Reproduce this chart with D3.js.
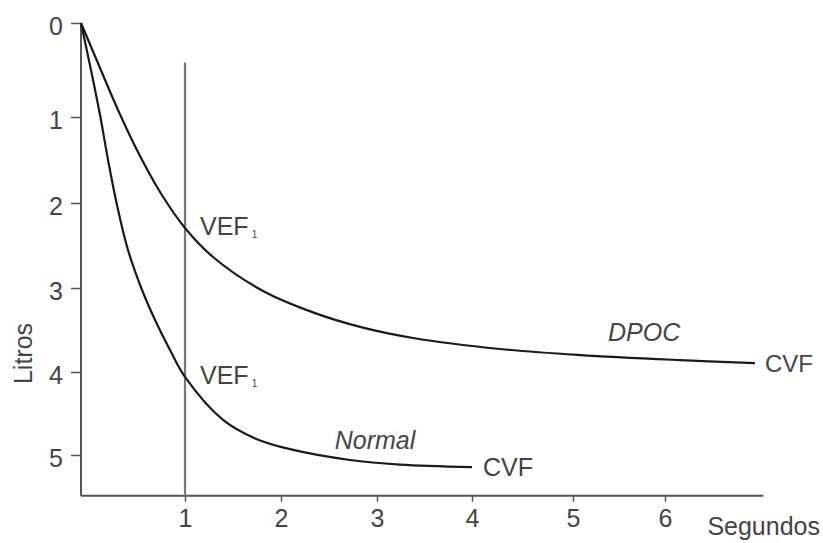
<!DOCTYPE html>
<html>
<head>
<meta charset="utf-8">
<script src="https://cdn.jsdelivr.net/npm/d3@7"></script>
<style>
  html, body { margin: 0; padding: 0; background: #fff; }
  svg text { font-family: "Liberation Sans", Arial, sans-serif; fill: #444; }
</style>
</head>
<body>
<svg id="chart" width="823" height="543"></svg>
<script>
// ---- data ----
const xTicks = [1, 2, 3, 4, 5, 6];
const yTicks = [0, 1, 2, 3, 4, 5];

// time (s), litres expired
const dpocT = [0, 0.183, 0.356, 0.538, 0.760, 1.0, 1.292, 1.813, 2.333, 2.854, 3.379, 4.277, 5.076, 6.163, 6.978];
const dpocV = [0, 0.479, 0.926, 1.384, 1.872, 2.294, 2.635, 3.036, 3.29, 3.472, 3.595, 3.726, 3.798, 3.858, 3.894];

const normalT = [0, 0.096, 0.183, 0.26, 0.346, 0.452, 0.587, 0.712, 0.856, 1.0, 1.396, 1.73, 2.094, 2.719, 3.242, 4.0];
const normalV = [0, 0.5, 0.979, 1.5, 2.024, 2.553, 3.024, 3.381, 3.738, 4.06, 4.578, 4.80, 4.93, 5.06, 5.115, 5.145];

const fev1Time = 1;
const xLabel = "Segundos";
const yLabel = "Litros";

// ---- scales (hand-drawn axis: slightly uneven spacing) ----
const x = d3.scaleLinear()
  .domain([0, 1, 2, 3, 4, 5, 6])
  .range([81, 185, 281, 377, 472, 573, 665]);
const y = d3.scaleLinear()
  .domain([0, 1, 2, 3, 4, 5])
  .range([23, 117, 203, 288, 372, 455]);

const xMax = 7.07, yMax = 5.49;

const svg = d3.select("#chart");
const axisColor = "#555";

// axes lines
svg.append("line")
  .attr("x1", x(0)).attr("x2", x(0))
  .attr("y1", y(0)).attr("y2", y(yMax))
  .attr("stroke", axisColor).attr("stroke-width", 2);
svg.append("line")
  .attr("x1", x(0)).attr("x2", x(xMax))
  .attr("y1", y(yMax)).attr("y2", y(yMax))
  .attr("stroke", axisColor).attr("stroke-width", 2);

// y axis ticks & labels
const yAxis = d3.axisLeft(y).tickValues(yTicks).tickSize(10).tickPadding(8).tickFormat(d3.format("d"));
const gy = svg.append("g").attr("transform", `translate(${x(0)},0)`).call(yAxis);
gy.select(".domain").remove();
gy.selectAll(".tick line").attr("stroke", axisColor).attr("stroke-width", 1.5);
gy.selectAll(".tick text").attr("font-size", 25).attr("fill", "#444").attr("dy", "0.45em")
  .style("font-family", "'Liberation Sans', Arial, sans-serif");

// x axis ticks & labels
const xAxis = d3.axisBottom(x).tickValues(xTicks).tickSize(6).tickPadding(8).tickFormat(d3.format("d"));
const gx = svg.append("g").attr("transform", `translate(0,${y(yMax)})`).call(xAxis);
gx.select(".domain").remove();
gx.selectAll(".tick line").attr("stroke", axisColor).attr("stroke-width", 1.5);
gx.selectAll(".tick text").attr("font-size", 25).attr("fill", "#444").attr("dy", "0.71em")
  .style("font-family", "'Liberation Sans', Arial, sans-serif");

// FEV1 vertical line
svg.append("line")
  .attr("x1", x(fev1Time)).attr("x2", x(fev1Time))
  .attr("y1", y(0.42)).attr("y2", y(yMax))
  .attr("stroke", "#777").attr("stroke-width", 2.2);

// curves
const line = d3.line().x(d => x(d[0])).y(d => y(d[1])).curve(d3.curveCatmullRom.alpha(0.5));
const dpoc = dpocT.map((t, i) => [t, dpocV[i]]);
const normal = normalT.map((t, i) => [t, normalV[i]]);

svg.append("path").datum(dpoc).attr("d", line)
  .attr("fill", "none").attr("stroke", "#1a1a1a").attr("stroke-width", 2.2);
svg.append("path").datum(normal).attr("d", line)
  .attr("fill", "none").attr("stroke", "#1a1a1a").attr("stroke-width", 2.2);

// annotations
function vef(vAtOne) {
  const t = svg.append("text")
    .attr("x", x(fev1Time) + 15).attr("y", y(vAtOne) + 7)
    .attr("font-size", 25);
  t.append("tspan").text("VEF");
  t.append("tspan").attr("font-size", 10).attr("dx", 3).attr("dy", 3).text("1");
}
vef(dpocV[dpocT.indexOf(1.0)]);
vef(normalV[normalT.indexOf(1.0)]);

const dEnd = dpoc[dpoc.length - 1];
const nEnd = normal[normal.length - 1];
svg.append("text").attr("x", x(dEnd[0]) + 10).attr("y", y(dEnd[1]) + 9)
  .attr("font-size", 24).text("CVF");
svg.append("text").attr("x", x(nEnd[0]) + 11).attr("y", y(nEnd[1]) + 9)
  .attr("font-size", 25).text("CVF");

svg.append("text").attr("x", x(5.38)).attr("y", y(3.63))
  .attr("font-size", 25).attr("font-style", "italic").text("DPOC");
svg.append("text").attr("x", x(2.56)).attr("y", y(4.93))
  .attr("font-size", 25).attr("font-style", "italic").text("Normal");

svg.append("text").attr("x", 820).attr("y", 535)
  .attr("text-anchor", "end").attr("font-size", 25).text(xLabel);
svg.append("text")
  .attr("transform", `translate(32,${y(3.78)}) rotate(-90)`)
  .attr("text-anchor", "middle").attr("font-size", 25).text(yLabel);
</script>
</body>
</html>
